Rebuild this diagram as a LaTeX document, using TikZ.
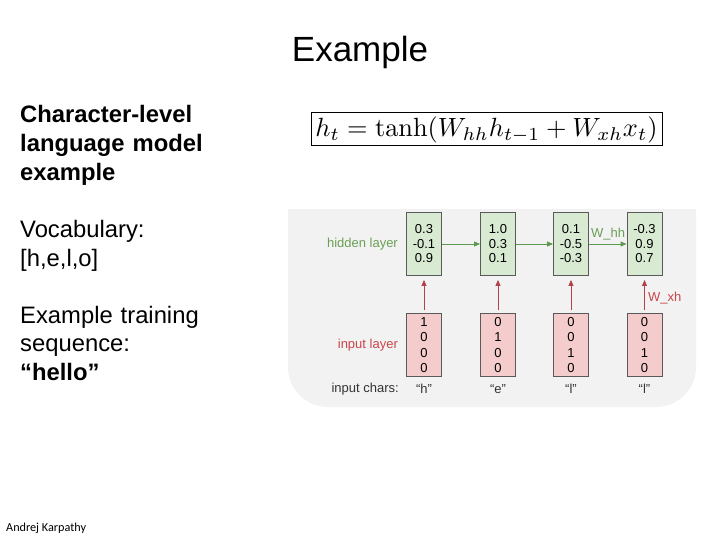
\documentclass[tikz,border=0pt]{standalone}
\usepackage[no-math]{fontspec}
\setmainfont{Liberation Sans}
\newfontfamily\calibrifont{Carlito}
\usetikzlibrary{arrows.meta,calc}
\definecolor{bgc}{HTML}{F2F2F2}
\definecolor{hidfill}{HTML}{D9EAD3}
\definecolor{infill}{HTML}{F4CCCC}
\definecolor{boxline}{HTML}{5A5A5A}
\definecolor{greentxt}{HTML}{6A9F55}
\definecolor{redtxt}{HTML}{C8464B}
\definecolor{greenarr}{HTML}{5F9950}
\definecolor{redarr}{HTML}{B5424A}
\definecolor{chartxt}{HTML}{333333}
\tikzset{
  sidetext/.style={anchor=base west, inner sep=0pt, text width=220bp, align=left,
    font=\fontsize{23.8bp}{28.6bp}\selectfont},
  hidbox/.style={draw=boxline, line width=0.9bp, fill=hidfill, minimum width=35bp,
    minimum height=63bp, inner sep=0pt, align=center,
    font=\fontsize{13bp}{14.5bp}\selectfont},
  inbox/.style={draw=boxline, line width=0.9bp, fill=infill, minimum width=35bp,
    minimum height=63bp, inner sep=0pt, align=center,
    font=\fontsize{13bp}{15.3bp}\selectfont},
  difont/.style={font=\fontsize{13bp}{15bp}\selectfont, inner sep=0pt},
  greenarrow/.style={draw=greenarr, line width=0.9bp, -{Triangle[length=6bp,width=5bp]}},
  redarrow/.style={draw=redarr, line width=0.9bp, -{Triangle[length=6bp,width=5bp]},
    shorten <=3bp, shorten >=4bp},
}
\begin{document}
\begin{tikzpicture}[x=1bp,y=-1bp]
\useasboundingbox (0,0) rectangle (720,540);
\fill[white] (0,0) rectangle (720,540);

% title
\node[anchor=base, inner sep=0pt, font=\fontsize{35bp}{40bp}\selectfont] (title) at (360,62) {Example};

% left column
\node[sidetext, font=\fontsize{23.8bp}{28.6bp}\selectfont\bfseries] (p1) at (20,123)
  {Character-level\\language model\\example};
\node[sidetext] (p2) at (20,238) {Vocabulary:\\{}[h,e,l,o]};
\node[sidetext] (p3) at (20,323) {Example training\\sequence:\\\textbf{“hello”}};

\node[anchor=base west, inner sep=0pt, font=\calibrifont\fontsize{12.2bp}{14bp}\selectfont] (author) at (6,531) {Andrej Karpathy};

% equation
\node[draw=black, line width=1bp, minimum width=351bp, minimum height=33bp, inner sep=0pt] (eq) at (486.5,129.5)
  {\resizebox{342bp}{!}{$h_t = \tanh(W_{hh}h_{t-1} + W_{xh}x_t)$}};

% diagram background
\begin{scope}
  \clip (288,210) rectangle (696,407);
  \fill[bgc, rounded corners=40bp] (288,150) rectangle (696,407);
\end{scope}

% hidden layer boxes
\node[hidbox] (h1) at (424,244) {0.3\\-0.1\\0.9};
\node[hidbox] (h2) at (498,244) {1.0\\0.3\\0.1};
\node[hidbox] (h3) at (571,244) {0.1\\-0.5\\-0.3};
\node[hidbox] (h4) at (644.5,244) {-0.3\\0.9\\0.7};

% input layer boxes
\node[inbox] (x1) at (424,345) {1\\0\\0\\0};
\node[inbox] (x2) at (498,345) {0\\1\\0\\0};
\node[inbox] (x3) at (571,345) {0\\0\\1\\0};
\node[inbox] (x4) at (644.5,345) {0\\0\\1\\0};

% labels
\node[difont, text=greentxt, anchor=east] (hl) at ([xshift=-8bp]h1.west) {hidden layer};
\node[difont, text=redtxt, anchor=east] (il) at ([xshift=-8bp]x1.west) {input layer};
\node[difont, text=chartxt, anchor=east] (ic) at (399,389) {input chars:};
\node[difont, text=chartxt] (c1) at (424,389) {“h”};
\node[difont, text=chartxt] (c2) at (498,389) {“e”};
\node[difont, text=chartxt] (c3) at (571,389) {“l”};
\node[difont, text=chartxt] (c4) at (644.5,389) {“l”};
\node[difont, text=greentxt, anchor=base] (whh) at (608,238) {W\_hh};
\node[difont, text=redtxt, anchor=west] (wxh) at (648,298) {W\_xh};

% arrows
\draw[greenarrow] (h1.east) -- (h2.west);
\draw[greenarrow] (h2.east) -- (h3.west);
\draw[greenarrow] (h3.east) -- (h4.west);
\draw[redarrow] (x1) -- (h1);
\draw[redarrow] (x2) -- (h2);
\draw[redarrow] (x3) -- (h3);
\draw[redarrow] (x4) -- (h4);
\end{tikzpicture}
\end{document}
